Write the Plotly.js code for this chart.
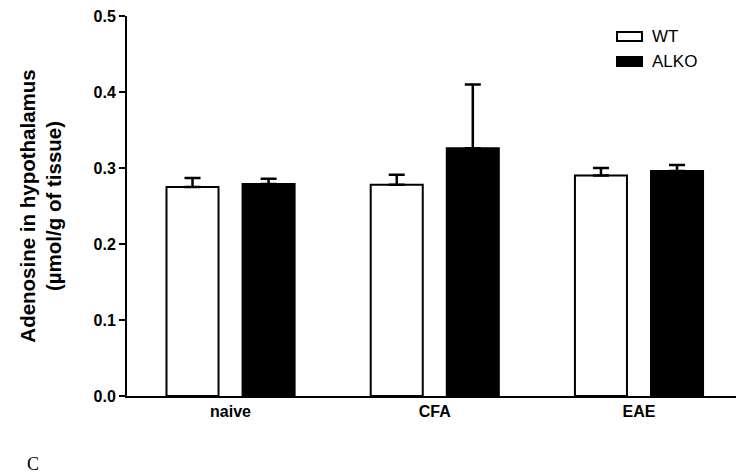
<!DOCTYPE html>
<html>
<head>
<meta charset="utf-8">
<script src="https://cdn.plot.ly/plotly-3.0.1.min.js"></script>
<style>html,body{margin:0;padding:0;background:#fff;}#chart{width:750px;height:476px;}</style>
</head>
<body>
<div id="chart"></div>
<script>
var categories = ["naive", "CFA", "EAE"];
var wtValues = [0.275, 0.278, 0.290];
var wtErrors = [0.012, 0.013, 0.010];
var alkoValues = [0.279, 0.326, 0.296];
var alkoErrors = [0.007, 0.084, 0.008];
var seriesNames = ["WT", "ALKO"];
var yTicks = [0, 0.1, 0.2, 0.3, 0.4, 0.5];

var W = 750, H = 476;
var M = {l: 127, r: 14, t: 16, b: 80};
var pw = W - M.l - M.r, ph = H - M.t - M.b;
function px(x) { return (x - M.l) / pw; }
function py(y) { return (H - M.b - y) / ph; }

var errStyle = {color: "#000", thickness: 2.5, width: 8};

var traces = [
  {
    type: "bar", name: seriesNames[0], x: categories, y: wtValues,
    marker: {color: "#fff", line: {color: "#000", width: 2}},
    error_y: Object.assign({type: "data", symmetric: false, array: wtErrors, arrayminus: [0,0,0]}, errStyle)
  },
  {
    type: "bar", name: seriesNames[1], x: categories, y: alkoValues,
    marker: {color: "#000", line: {color: "#000", width: 2}},
    error_y: Object.assign({type: "data", symmetric: false, array: alkoErrors, arrayminus: [0,0,0]}, errStyle)
  }
];

var layout = {
  width: W, height: H,
  margin: M,
  paper_bgcolor: "#fff", plot_bgcolor: "#fff",
  barmode: "group", bargap: 0.255, bargroupgap: 0.316,
  font: {family: "Liberation Sans, Arial, sans-serif", color: "#000"},
  showlegend: false,
  xaxis: {
    range: [-0.507, 2.475], showgrid: false, zeroline: false,
    showline: true, linecolor: "#000", linewidth: 2, ticks: "",
    tickfont: {size: 16, weight: "bold"}
  },
  yaxis: {
    range: [0, 0.5], tickvals: yTicks, tickformat: ".1f",
    showgrid: false, zeroline: false, showline: true, linecolor: "#000", linewidth: 2,
    ticks: "outside", ticklen: 6, tickwidth: 2, tickcolor: "#000",
    tickfont: {size: 16, weight: "bold"},
    title: {text: "Adenosine in hypothalamus<br>(µmol/g of tissue)", font: {size: 20.5, weight: "bold"}, standoff: 26}
  },
  shapes: [
    {type: "rect", xref: "paper", yref: "paper", x0: px(617), x1: px(642), y0: py(41), y1: py(32),
     fillcolor: "#fff", line: {color: "#000", width: 2}},
    {type: "rect", xref: "paper", yref: "paper", x0: px(617), x1: px(642), y0: py(66), y1: py(57),
     fillcolor: "#000", line: {color: "#000", width: 2}}
  ],
  annotations: [
    {text: seriesNames[0], xref: "paper", yref: "paper", x: px(650), y: py(36.5), xanchor: "left", yanchor: "middle",
     showarrow: false, font: {size: 17, color: "#000"}},
    {text: seriesNames[1], xref: "paper", yref: "paper", x: px(650), y: py(61.5), xanchor: "left", yanchor: "middle",
     showarrow: false, font: {size: 17, color: "#000"}},
    {text: "C", xref: "paper", yref: "paper", x: px(26), y: py(464), xanchor: "left", yanchor: "middle", showarrow: false,
     borderpad: 0, font: {family: "Liberation Serif, Times New Roman, serif", size: 18, color: "#000"}}
  ]
};

Plotly.newPlot("chart", traces, layout, {displayModeBar: false, staticPlot: true});
</script>
</body>
</html>
